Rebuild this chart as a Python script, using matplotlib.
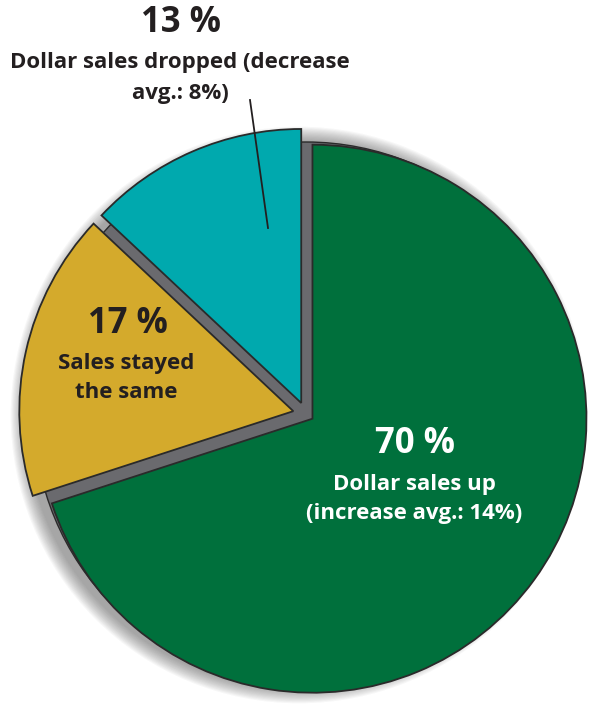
import numpy as np
import matplotlib
matplotlib.use('Agg')
import matplotlib.pyplot as plt
from matplotlib.patches import Circle

# survey shares, clockwise from 12 o'clock
shares = [70, 17, 13]
share_labels = ['70 %', '17 %', '13 %']
share_notes = ['Dollar sales up\n(increase avg.: 14%)',
               'Sales stayed\nthe same',
               'Dollar sales dropped (decrease\navg.: 8%)']
colors = ['#00703c', '#d4aa2c', '#00a9ae']

W, H = 590, 704
cx, cy = 306, H - 414
r = 274
ink = '#231f20'
# slice offsets in pixels
explode = [8, 13, 12]

plt.rcParams['font.family'] = ['Open Sans', 'DejaVu Sans']

fig = plt.figure(figsize=(W / 100.0, H / 100.0), dpi=100)
ax = fig.add_axes([0, 0, 1, 1])

# soft drop shadow round the pie, heavier on the left
for i in range(14):
    ax.add_patch(Circle((cx - 7, cy - 1), r + 1.1 * i, color='#4a4a4a', alpha=0.045, lw=0, zorder=1))

# grey "side" showing through the gaps
ax.add_patch(Circle((cx, cy), r - 2, facecolor='#6a6a6e', edgecolor='#2a2a2a', lw=1.0, zorder=2))

wedges, _ = ax.pie(shares, colors=colors, explode=explode, startangle=90, counterclock=False,
                   center=(cx, cy), radius=r, frame=True,
                   wedgeprops=dict(edgecolor='#2a2a2a', linewidth=1.3))
for w in wedges:
    w.set_zorder(3)
ax.set_xlim(0, W)
ax.set_ylim(0, H)
ax.axis('off')

# leader line for the small slice
ax.plot([250, 268], [H - 100, H - 228], color=ink, lw=1.3, zorder=5)

# labels
ax.text(415, H - 444, share_labels[0], color='white', fontsize=25, fontweight='bold',
        ha='center', va='center', zorder=6)
ax.text(414, H - 499, share_notes[0], color='white', fontsize=16, fontweight='bold',
        ha='center', va='center', linespacing=1.55, zorder=6)

ax.text(128, H - 324, share_labels[1], color=ink, fontsize=25, fontweight='bold',
        ha='center', va='center', zorder=6)
ax.text(126, H - 378, share_notes[1], color=ink, fontsize=16, fontweight='bold',
        ha='center', va='center', linespacing=1.5, zorder=6)

ax.text(181, H - 23, share_labels[2], color=ink, fontsize=25, fontweight='bold',
        ha='center', va='center', zorder=6)
ax.text(180, H - 78, share_notes[2], color=ink, fontsize=16, fontweight='bold',
        ha='center', va='center', linespacing=1.65, zorder=6)

fig.savefig('out.png', dpi=100)
